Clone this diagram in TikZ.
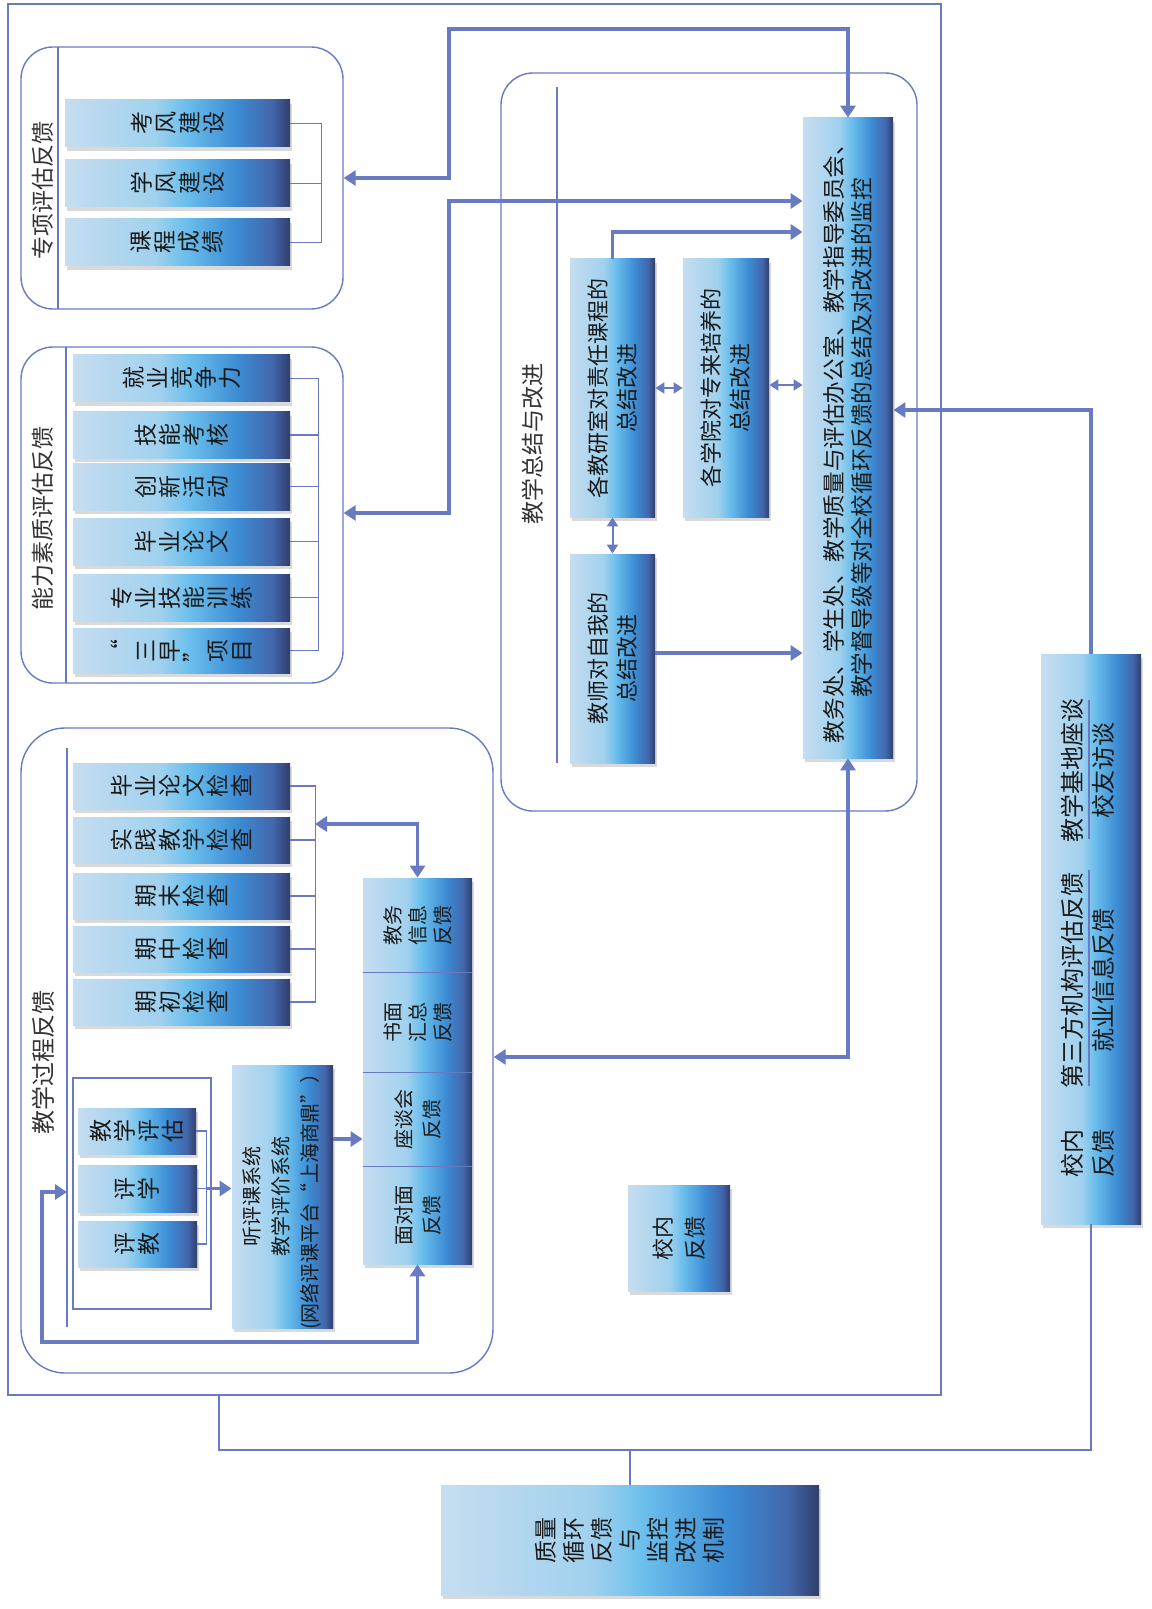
\documentclass[tikz,border=0pt]{standalone}
\usepackage{fontspec}
\setmainfont{Noto Sans CJK SC}
\usetikzlibrary{arrows.meta,fit,shadows}

\definecolor{lineblue}{RGB}{104,122,194}
\definecolor{shA}{RGB}{198,221,240}
\definecolor{shB}{RGB}{160,209,238}
\definecolor{shC}{RGB}{106,190,236}
\definecolor{shD}{RGB}{60,140,212}
\definecolor{shE}{RGB}{66,102,172}
\definecolor{shF}{RGB}{48,62,106}
\pgfdeclarehorizontalshading{boxshade}{100bp}{color(0bp)=(shA); color(25bp)=(shA); color(45bp)=(shB); color(52bp)=(shC); color(63bp)=(shD); color(71bp)=(shE); color(75bp)=(shF); color(100bp)=(shF)}

\tikzset{
  >={Triangle[length=6pt,width=7.5pt]},
  outerline/.style={draw=lineblue, line width=0.7pt, inner sep=0pt},
  grp/.style={outerline, rounded corners=16pt},
  brk/.style={draw=lineblue, line width=0.7pt},
  arr/.style={draw=lineblue, line width=1.8pt},
  darr/.style={draw=lineblue, line width=1pt, {Triangle[length=4.5pt,width=5.5pt]}-{Triangle[length=4.5pt,width=5.5pt]}},
  box/.style={shading=boxshade, inner sep=0pt, drop shadow={shadow xshift=1pt, shadow yshift=-2.2pt, opacity=.3}},
  ttl/.style={rotate=90, text=black!80, font=\fontsize{11.5}{13}\selectfont},
  stk/.style={rotate=90, align=center, inner sep=0pt, text=black!90, font=\fontsize{11.5}{12}\selectfont},
  txt/.style={rotate=90, align=center, inner sep=0pt, text=black!90},
}

\begin{document}
\begin{tikzpicture}[x=0.5pt,y=-0.5pt]
\useasboundingbox (0,0) rectangle (1151,1609);

        %Frame
        \node [outerline, fit={(8,4) (941,1395)}] (all) {};

        %Special evaluation feedback
        \node [grp, fit={(21,47) (343,309)}] (g1) {};
        \draw [brk] (58,47) -- (58,309);
        \node [ttl] at (43,191) {专项评估反馈};
        \node [box, fit={(65,100) (290,147)}] (kf) {};
        \node [stk] at (kf) {考\\风\\建\\设};
        \node [box, fit={(65,160) (290,207)}] (xf) {};
        \node [stk] at (xf) {学\\风\\建\\设};
        \node [box, fit={(65,219) (290,266)}] (cj) {};
        \node [stk] at (cj) {课\\程\\成\\绩};
        \draw [brk] (kf.east) -- ++(31,0) |- (cj.east);
        \draw [brk] (xf.east) -- ++(31,0);

        %Ability evaluation feedback
        \node [grp, fit={(21,347) (343,683)}] (g2) {};
        \draw [brk] (66,347) -- (66,683);
        \node [ttl] at (43,518) {能力素质评估反馈};
        \node [box, fit={(73,355) (290,402)}] (jy) {};
        \node [stk] at (jy) {就\\业\\竞\\争\\力};
        \node [box, fit={(73,412) (290,458)}] (jn) {};
        \node [stk] at (jn) {技\\能\\考\\核};
        \node [box, fit={(73,463) (290,510)}] (cx) {};
        \node [stk] at (cx) {创\\新\\活\\动};
        \node [box, fit={(73,518) (290,565)}] (bl) {};
        \node [stk] at (bl) {毕\\业\\论\\文};
        \node [box, fit={(73,574) (290,621)}] (zy) {};
        \node [stk] at (zy) {专\\业\\技\\能\\训\\练};
        \node [box, fit={(73,628) (290,673)}] (sz) {};
        \node [stk] at (sz) {“\\三\\早\\”\\项\\目};
        \draw [brk] (jy.east) -- ++(28,0) |- (sz.east);
        \foreach \n in {jn,cx,bl,zy}
          \draw [brk] (\n.east) -- ++(28,0);

        %Teaching process feedback
        \node [grp, rounded corners=22pt, fit={(21,728) (493,1373)}] (g3) {};
        \draw [brk] (67,748) -- (67,1327);
        \node [ttl, font=\fontsize{12}{13}\selectfont] at (43,1062) {教学过程反馈};
        \node [box, fit={(73,763) (290,809)}] (bylw) {};
        \node [stk] at (bylw) {毕\\业\\论\\文\\检\\查};
        \node [box, fit={(73,817) (290,863)}] (sjjx) {};
        \node [stk] at (sjjx) {实\\践\\教\\学\\检\\查};
        \node [box, fit={(73,873) (290,919)}] (qm) {};
        \node [stk] at (qm) {期\\末\\检\\查};
        \node [box, fit={(73,926) (290,972)}] (qz) {};
        \node [stk] at (qz) {期\\中\\检\\查};
        \node [box, fit={(73,979) (290,1025)}] (qc) {};
        \node [stk] at (qc) {期\\初\\检\\查};
        \draw [brk] (bylw.east) -- ++(25,0) |- (qc.east);
        \foreach \n in {sjjx,qm,qz}
          \draw [brk] (\n.east) -- ++(25,0);
        \coordinate (chk) at (315,824);

        %Feedback channels
        \node [box, fit={(363,878) (472,972)}] (jw) {};
        \node [txt, font=\fontsize{10}{12.5}\selectfont] at (jw) {教务\\信息\\反馈};
        \node [box, fit={(363,972) (472,1072)}] (sm) {};
        \node [txt, font=\fontsize{10}{12.5}\selectfont] at (sm) {书面\\汇总\\反馈};
        \node [box, fit={(363,1072) (472,1166)}] (zt) {};
        \node [txt, font=\fontsize{10}{14}\selectfont] at (zt) {座谈会\\反馈};
        \node [box, fit={(363,1166) (472,1264)}] (mm) {};
        \node [txt, font=\fontsize{10}{14}\selectfont] at (mm) {面对面\\反馈};
        \draw [brk] (jw.south west) -- (jw.south east);
        \draw [brk] (sm.south west) -- (sm.south east);
        \draw [brk] (zt.south west) -- (zt.south east);
        \draw [arr, <->] (chk) -| (jw.north);

        %Evaluation system
        \draw [brk] (73,1078) rectangle (211,1309);
        \node [box, fit={(78,1108) (196,1154)}] (pg) {};
        \node [stk] at (pg) {教\\学\\评\\估};
        \node [box, fit={(78,1165) (197,1212)}] (px) {};
        \node [stk] at (px) {评\\学};
        \node [box, fit={(78,1221) (197,1267)}] (pj) {};
        \node [stk] at (pj) {评\\教};
        \draw [brk] (pg.east) -- ++(10,0) |- (pj.east);
        \draw [brk] (px.east) -- ++(10,0) coordinate (pb);
        \node [box, fit={(232,1065) (333,1328)}] (tp) {};
        \node [txt, font=\fontsize{10}{14.5}\selectfont] at (tp) {听评课系统\\教学评价系统\\(网络评课平台“上海商鼎”）};
        \draw [arr, ->] (pb) -- (pb -| tp.west);
        \draw [arr, ->] (tp.east |- 0,1139) -- (zt.west |- 0,1139);
        \coordinate (loop) at (67,1192);
        \draw [arr, <->] (mm.south) |- (42,1342) |- (loop);

        %Summary and improvement
        \node [grp, fit={(501,73) (917,811)}] (g4) {};
        \draw [brk] (557,87) -- (557,763);
        \node [ttl] at (533,444) {教学总结与改进};
        \node [box, fit={(570,259) (655,517)}] (ys) {};
        \node [txt, font=\fontsize{11}{14.5}\selectfont] at (ys) {各教研室对责任课程的\\总结改进};
        \node [box, fit={(683,259) (769,517)}] (xy) {};
        \node [txt, font=\fontsize{11}{14.5}\selectfont] at (xy) {各学院对专来培养的\\总结改进};
        \node [box, fit={(570,554) (655,763)}] (js) {};
        \node [txt, font=\fontsize{11}{14.5}\selectfont] at (js) {教师对自我的\\总结改进};
        \node [box, fit={(803,118) (893,758)}] (big) {};
        \node [txt, font=\fontsize{11.3}{14}\selectfont] at (big) {教务处、学生处、教学质量与评估办公室、教学指导委员会、\\教学督导级等对全校循环反馈的总结及对改进的监控};
        \draw [darr] (ys.east |- 0,388) -- (xy.west |- 0,388);
        \draw [darr] (xy.east |- 0,385) -- (big.west |- 0,385);
        \draw [darr] (ys.south) -- (js.north);
        \draw [arr, ->] (ys.north) |- (big.west |- 0,232);
        \draw [arr, ->] (js.east |- 0,653) -- (big.west |- 0,653);

        %Links between groups
        \draw [arr, <->] (g1.east |- 0,178) -| (449,29) -| (big.north);
        \draw [arr, <->] (g2.east |- 0,513) -| (449,201) -- (big.west |- 0,201);
        \draw [arr, <->] (big.south) |- (g3.east |- 0,1057);

        %Outside feedback
        \node [box, fit={(1041,654) (1141,1224)}] (rb) {};
        \node [txt, font=\fontsize{12}{15.5}\selectfont] at (1088,770) {教学基地座谈\\校友访谈};
        \node [txt, font=\fontsize{12}{15.5}\selectfont] at (1088,980) {第三方机构评估反馈\\就业信息反馈};
        \node [txt, font=\fontsize{12}{15.5}\selectfont] at (1088,1153) {校内\\反馈};
        \draw [brk, line width=1pt] (1089,700) -- (1089,839);
        \draw [brk, line width=1pt] (1089,870) -- (1089,1086);
        \draw [arr, ->] (rb.north) |- (big.east |- 0,410);

        %School feedback
        \node [box, fit={(628,1185) (730,1291)}] (mb) {};
        \node [txt, font=\fontsize{11}{16}\selectfont] at (mb) {校内\\反馈};

        %Mechanism
        \node [box, fit={(441,1485) (819,1595)}] (qb) {};
        \node [txt, font=\fontsize{11.5}{14}\selectfont] at (qb) {质量\\循环\\反馈\\与\\监控\\改进\\机制};
        \draw [brk] (rb.south) |- (219,1450) -- (all.south -| 219,0);
        \draw [brk] (qb.north) -- (qb.north |- 0,1450);

\end{tikzpicture}
\end{document}
